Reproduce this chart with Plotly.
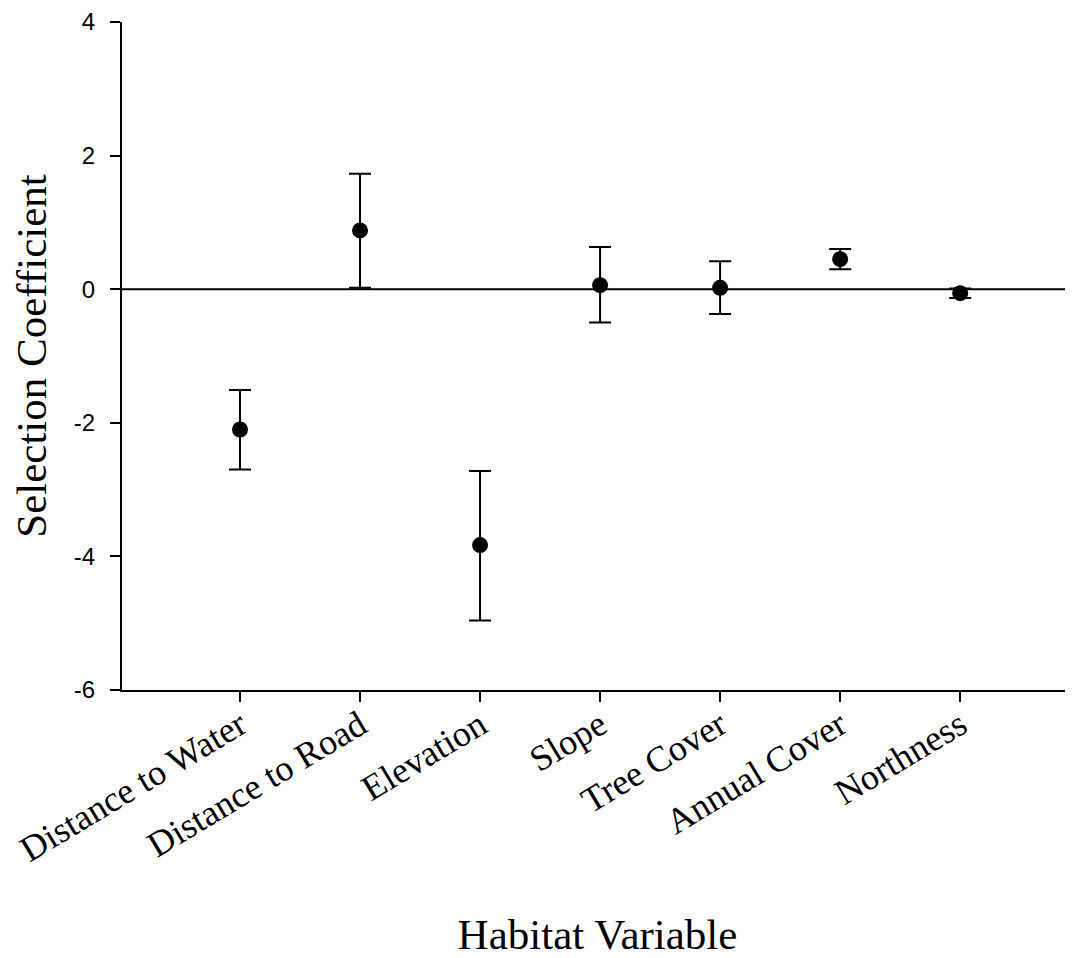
import plotly.graph_objects as go

categories = ["Distance to Water", "Distance to Road", "Elevation", "Slope",
              "Tree Cover", "Annual Cover", "Northness"]
coef = [-2.10, 0.88, -3.83, 0.06, 0.02, 0.45, -0.06]
upper = [-1.51, 1.73, -2.72, 0.63, 0.42, 0.60, 0.01]
lower = [-2.70, 0.02, -4.96, -0.50, -0.37, 0.30, -0.13]

err_plus = [u - c for u, c in zip(upper, coef)]
err_minus = [c - l for c, l in zip(coef, lower)]

y_ticks = [-6, -4, -2, 0, 2, 4]
y_ticktext = ["-6", "-4", "-2", "0", "2", "4"]

fig = go.Figure()
fig.add_trace(go.Scatter(
    x=list(range(len(categories))), y=coef, mode="markers",
    marker=dict(symbol="circle", size=16, color="black"),
    error_y=dict(type="data", symmetric=False, array=err_plus, arrayminus=err_minus,
                 color="black", thickness=2, width=11),
    showlegend=False,
))

fig.add_hline(y=0, line=dict(color="black", width=2), layer="below")

fig.update_layout(
    width=1065, height=950,
    margin=dict(l=114, r=0, t=11, b=268),
    plot_bgcolor="white", paper_bgcolor="white",
    xaxis=dict(
        range=[-0.983, 6.94],
        tickmode="array", tickvals=list(range(len(categories))), ticktext=categories,
        tickangle=-31,
        ticklabeloverflow="allow",
        ticklabelstandoff=-12,
        tickfont=dict(family="Liberation Serif", size=36, color="black"),
        showline=True, linecolor="black", linewidth=2,
        ticks="outside", ticklen=10, tickwidth=2, tickcolor="black",
        showgrid=False, zeroline=False,
        title=dict(text="Habitat Variable", standoff=56,
                   font=dict(family="Liberation Serif", size=43, color="black")),
    ),
    yaxis=dict(
        range=[-6, 4],
        tickmode="array", tickvals=y_ticks, ticktext=y_ticktext,
        ticklabeloverflow="allow",
        ticklabelstandoff=10,
        tickfont=dict(family="Liberation Sans", size=24, color="black"),
        showline=True, linecolor="black", linewidth=2,
        ticks="outside", ticklen=10, tickwidth=2, tickcolor="black",
        showgrid=False, zeroline=False,
        title=dict(text="Selection Coefficient", standoff=20,
                   font=dict(family="Liberation Serif", size=43, color="black")),
    ),
)

fig.write_html("out.html")
